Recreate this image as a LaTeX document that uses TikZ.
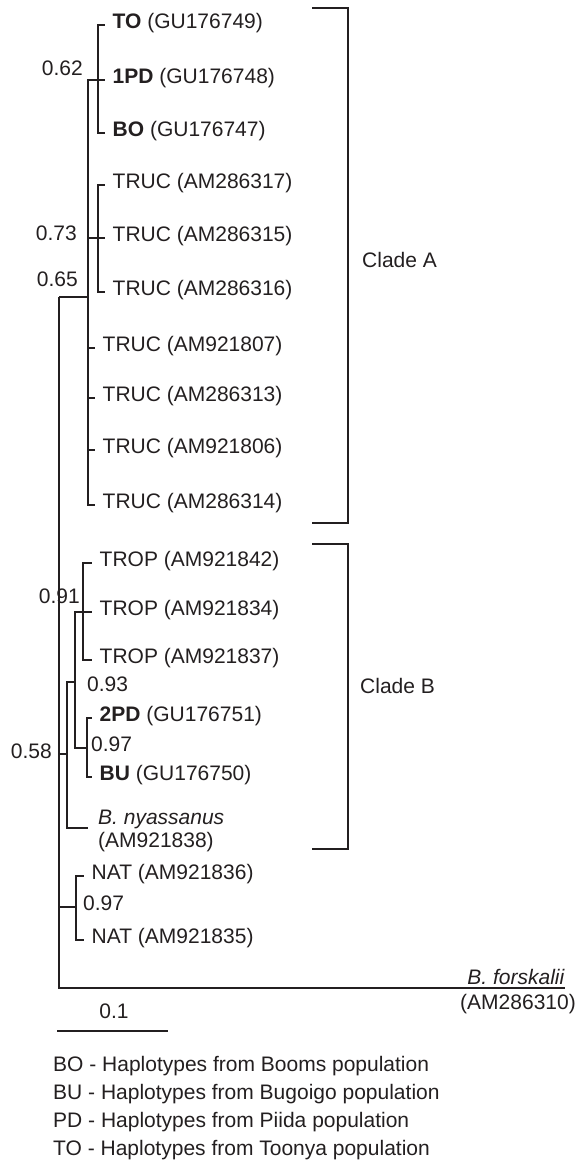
\documentclass[tikz,border=0pt]{standalone}
\usepackage{fontspec}
\setmainfont{Liberation Sans}
\definecolor{ink}{HTML}{231F20}
\newcommand\treefont{\fontsize{21}{25}\selectfont}
\begin{document}
\begin{tikzpicture}[x=1pt,y=-1pt,
  edge/.style={draw=ink,line width=1.3pt},
  leaf/.style={anchor=west,inner xsep=7.5pt,inner ysep=0pt,text height=0.716em,text depth=0pt,font=\treefont,text=ink},
  sup/.style={inner sep=0pt,text height=0.716em,text depth=0pt,font=\treefont,text=ink},
  plain/.style={inner sep=0pt,font=\treefont,text=ink}]
\useasboundingbox (0,0) rectangle (586,1163);
% leaves
\node[leaf] (TO) at (105,25) {\textbf{TO} (GU176749)};
\node[leaf] (PDa) at (105,80) {\textbf{1PD} (GU176748)};
\node[leaf] (BO) at (105,133) {\textbf{BO} (GU176747)};
\node[leaf] (T317) at (105,185) {TRUC (AM286317)};
\node[leaf] (T315) at (105,238) {TRUC (AM286315)};
\node[leaf] (T316) at (105,292) {TRUC (AM286316)};
\node[leaf] (T807) at (95,348) {TRUC (AM921807)};
\node[leaf] (T313) at (95,398) {TRUC (AM286313)};
\node[leaf] (T806) at (95,450) {TRUC (AM921806)};
\node[leaf] (T314) at (95,505) {TRUC (AM286314)};
\node[leaf] (P842) at (92,563) {TROP (AM921842)};
\node[leaf] (P834) at (92,612) {TROP (AM921834)};
\node[leaf] (P837) at (92,660) {TROP (AM921837)};
\node[leaf] (PDb) at (92,718) {\textbf{2PD} (GU176751)};
\node[leaf] (BU) at (92,777) {\textbf{BU} (GU176750)};
\node[plain,anchor=base west] (nya1) at (98,824.5) {\textit{B. nyassanus}};
\node[plain,anchor=base west] (nya2) at (98,847.5) {(AM921838)};
\node[leaf] (N836) at (84,876) {NAT (AM921836)};
\node[leaf] (N835) at (84,940) {NAT (AM921835)};
\node[plain,anchor=base east] (fors1) at (565,984) {\textit{B. forskalii}};
\node[plain,anchor=base east] (fors2) at (576,1009.5) {(AM286310)};
% internal nodes
\coordinate (root) at (59,297);
\coordinate (cA) at (88,297);
\coordinate (c62) at (98,80);
\coordinate (c73) at (98,238);
\coordinate (c58) at (67,754);
\coordinate (c93) at (75,682);
\coordinate (c91) at (83,612);
\coordinate (c97) at (87,748);
\coordinate (cN) at (76,907);
\coordinate (fEnd) at (565,988);
\coordinate (nyaEnd) at (88,828);
% branches
\draw[edge] (root) -- (cA);
\draw[edge] (cA) |- (PDa.west);
\draw[edge] (cA) |- (T315.west);
\draw[edge] (cA) |- (T807.west) (cA) |- (T313.west) (cA) |- (T806.west) (cA) |- (T314.west);
\draw[edge] (c62) |- (TO.west) (c62) |- (BO.west);
\draw[edge] (c73) |- (T317.west) (c73) |- (T316.west);
\draw[edge] (root) |- (fEnd);
\draw[edge] (root |- c58) -- (c58);
\draw[edge] (c58) |- (c93) (c58) |- (nyaEnd);
\draw[edge] (c93) |- (c91) (c93) |- (c97);
\draw[edge] (c91) |- (P842.west) (c91) -- (P834.west) (c91) |- (P837.west);
\draw[edge] (c97) |- (PDb.west) (c97) |- (BU.west);
\draw[edge] (root |- cN) -- (cN);
\draw[edge] (cN) |- (N836.west) (cN) |- (N835.west);
% support values
\node[sup,anchor=east] (s62) at (83,72) {0.62};
\node[sup,anchor=east] (s73) at (77,237) {0.73};
\node[sup,anchor=east] (s65) at (78,283) {0.65};
\node[sup,anchor=east] (s91) at (80,600) {0.91};
\node[sup,anchor=east] (s58) at (52,755) {0.58};
\node[sup,anchor=west] (s93) at (87,688) {0.93};
\node[sup,anchor=west] (s97a) at (91,748) {0.97};
\node[sup,anchor=west] (s97b) at (83,907) {0.97};
% clade brackets
\coordinate (Aa) at (312,8);
\coordinate (Ab) at (348,523);
\coordinate (Ac) at (312,523);
\draw[edge] (Aa) -| (Ab) -- (Ac);
\coordinate (Ba) at (312,544);
\coordinate (Bb) at (348,849);
\coordinate (Bc) at (312,849);
\draw[edge] (Ba) -| (Bb) -- (Bc);
\node[sup,anchor=west] (cladeA) at (362,264) {Clade A};
\node[sup,anchor=west] (cladeB) at (360,690) {Clade B};
% scale bar
\coordinate (sb1) at (57,1031);
\coordinate (sb2) at (168,1031);
\draw[edge] (sb1) -- (sb2);
\node[sup] (sbl) at (114,1015) {0.1};
% legend
\node[sup,anchor=west] (L1) at (53,1068) {BO - Haplotypes from Booms population};
\node[sup,anchor=west] (L2) at (53,1096) {BU - Haplotypes from Bugoigo population};
\node[sup,anchor=west] (L3) at (53,1124) {PD - Haplotypes from Piida population};
\node[sup,anchor=west] (L4) at (53,1152) {TO - Haplotypes from Toonya population};
\end{tikzpicture}
\end{document}
